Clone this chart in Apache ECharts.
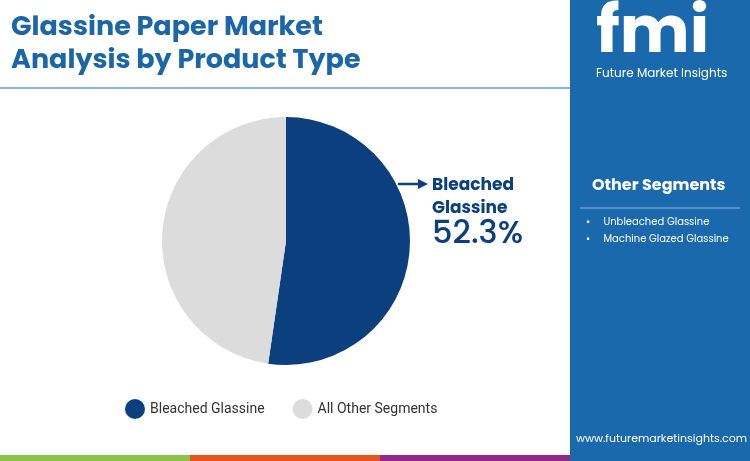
<!DOCTYPE html><html><head><meta charset="utf-8">
<script src="https://cdn.jsdelivr.net/npm/echarts@6/dist/echarts.min.js"></script>
<style>html,body{margin:0;padding:0}#c{width:750px;height:461px}</style></head><body><div id="c"></div>
<script>
const categories = ['Bleached Glassine', 'All Other Segments'];
const values = [52.3, 47.7];
const otherSegments = ['Unbleached Glassine', 'Machine Glazed Glassine'];
const colors = ['#0b3f7e', '#dcdcdc'];
const chart = echarts.init(document.getElementById('c'));
const F = 'Poppins, "Open Sans", Roboto, sans-serif';
chart.setOption({
  animation: false,
  color: colors,
  legend: {
    data: categories, left: 120, top: 394, itemWidth: 20, itemHeight: 20, icon: 'circle', itemGap: 28,
    textStyle: {fontSize: 14, color: '#333', fontFamily: 'Roboto'}
  },
  series: [{
    type: 'pie', center: [286, 241], radius: [0, 124], startAngle: 90, clockwise: true,
    label: {show: false}, labelLine: {show: false}, silent: true,
    data: categories.map((c, i) => ({name: c, value: values[i]}))
  }],
  graphic: [
    {type: 'rect', shape: {x: 570, y: 0, width: 180, height: 461}, style: {fill: '#1b69ad'}},
    {type: 'rect', shape: {x: 0, y: 455, width: 190, height: 6}, style: {fill: '#8bc34a'}},
    {type: 'rect', shape: {x: 190, y: 455, width: 190, height: 6}, style: {fill: '#e8541e'}},
    {type: 'rect', shape: {x: 380, y: 455, width: 190, height: 6}, style: {fill: '#8e2a8a'}},
    {type: 'line', shape: {x1: 0, y1: 88, x2: 570, y2: 88}, style: {stroke: '#5b9bd5', lineWidth: 1.5}},
    {type: 'text', left: 11, top: 12, style: {text: 'Glassine Paper Market\nAnalysis by Product Type', font: 'bold 27px ' + F, fill: '#1a66a8', lineHeight: 33}},
    {type: 'text', left: 596, top: 2, style: {text: 'fmi', font: 'bold 66px ' + F, fill: '#fff'}},
    {type: 'text', left: 596, top: 68, style: {text: 'Future Market Insights', font: '12px ' + F, fill: '#fff'}},
    {type: 'text', left: 592, top: 178, style: {text: 'Other Segments', font: 'bold 16px ' + F, fill: '#fff'}},
    {type: 'line', shape: {x1: 580, y1: 208, x2: 740, y2: 208}, style: {stroke: '#8fb8e0', lineWidth: 1}},
    {type: 'text', left: 586, top: 214, style: {text: otherSegments.map(s => '•     ' + s).join('\n'), font: '10px ' + F, fill: '#fff', lineHeight: 17}},
    {type: 'text', left: 576, top: 434, style: {text: 'www.futuremarketinsights.com', font: '11px ' + F, fill: '#fff'}},
    {type: 'line', shape: {x1: 398, y1: 184, x2: 418, y2: 184}, style: {stroke: '#0b3f7e', lineWidth: 2.5}},
    {type: 'polygon', shape: {points: [[418, 179], [428, 184], [418, 189]]}, style: {fill: '#0b3f7e'}},
    {type: 'text', left: 432, top: 174, style: {text: categories[0].replace(' ', '\n'), font: 'bold 17px ' + F, fill: '#0b3f7e', lineHeight: 23}},
    {type: 'text', left: 432, top: 219, style: {text: values[0] + '%', font: '500 32px ' + F, fill: '#0b3f7e'}}
  ]
});
</script></body></html>
